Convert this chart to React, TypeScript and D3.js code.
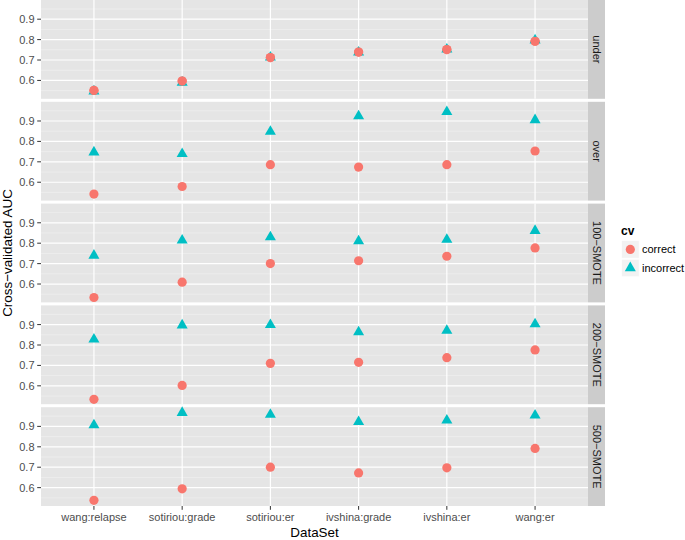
import React from "react";
import * as d3 from "d3";

const datasets = ["wang:relapse", "sotiriou:grade", "sotiriou:er", "ivshina:grade", "ivshina:er", "wang:er"];
const methods = ["under", "over", "100\u2212SMOTE", "200\u2212SMOTE", "500\u2212SMOTE"];
const cvLevels = ["correct", "incorrect"];

const correctUnder = [0.551, 0.597, 0.712, 0.739, 0.751, 0.792];
const correctOver = [0.542, 0.579, 0.686, 0.674, 0.686, 0.753];
const correct100 = [0.534, 0.609, 0.700, 0.714, 0.736, 0.777];
const correct200 = [0.534, 0.602, 0.710, 0.715, 0.738, 0.776];
const correct500 = [0.538, 0.594, 0.700, 0.672, 0.697, 0.792];

const incorrectUnder = [0.547, 0.590, 0.713, 0.738, 0.752, 0.797];
const incorrectOver = [0.747, 0.739, 0.848, 0.924, 0.945, 0.905];
const incorrect100 = [0.740, 0.814, 0.830, 0.810, 0.818, 0.861];
const incorrect200 = [0.828, 0.897, 0.899, 0.863, 0.871, 0.902];
const incorrect500 = [0.906, 0.967, 0.958, 0.922, 0.930, 0.954];

const yTicks = [0.6, 0.7, 0.8, 0.9];
const yMinor = [0.55, 0.65, 0.75, 0.85, 0.95];
const yDomain = [0.51, 0.994];

const correctByMethod = [correctUnder, correctOver, correct100, correct200, correct500];
const incorrectByMethod = [incorrectUnder, incorrectOver, incorrect100, incorrect200, incorrect500];

const colors = ["#F8766D", "#00BFC4"];
const FONT = "'Liberation Sans', Arial, Helvetica, sans-serif";

const W = 685, H = 540;
const left = 41, right = 588;
const stripW = 17;
const panelTop0 = 0, panelH = 98.8, gap = 3;
const plotBottom = panelTop0 + 5 * panelH + 4 * gap;

function tri(cx: number, cy: number, s: number) {
  const r = 1.555 * s, xc = 1.347 * s, yc = 0.778 * s;
  return `M${cx},${cy - r}L${cx + xc},${cy + yc}L${cx - xc},${cy + yc}Z`;
}

export default function App() {
  const x = d3.scalePoint<string>().domain(datasets).range([left, right]).padding(0.6);
  const panelY = (i: number) => panelTop0 + i * (panelH + gap);
  const yFor = (i: number) =>
    d3.scaleLinear().domain(yDomain).range([panelY(i) + panelH, panelY(i)]);

  return (
    <svg width={W} height={H} style={{ position: "absolute", left: 0, top: 0, fontFamily: FONT }}>
      <rect width={W} height={H} fill="#ffffff" />
      {methods.map((m, i) => {
        const y = yFor(i);
        const top = panelY(i);
        return (
          <g key={m}>
            <rect x={left} y={top} width={right - left} height={panelH} fill="#E5E5E5" />
            {yMinor.map((t) => (
              <line key={"mi" + t} x1={left} x2={right} y1={y(t)} y2={y(t)} stroke="#F2F2F2" strokeWidth={0.6} />
            ))}
            {yTicks.map((t) => (
              <line key={"ma" + t} x1={left} x2={right} y1={y(t)} y2={y(t)} stroke="#FFFFFF" strokeWidth={1.2} />
            ))}
            {datasets.map((d) => (
              <line key={"v" + d} x1={x(d)} x2={x(d)} y1={top} y2={top + panelH} stroke="#FFFFFF" strokeWidth={1.2} />
            ))}
            {correctByMethod[i].map((v, j) => (
              <circle key={"c" + j} cx={x(datasets[j])} cy={y(v)} r={4.6} fill={colors[0]} />
            ))}
            {incorrectByMethod[i].map((v, j) => (
              <path key={"t" + j} d={tri(x(datasets[j]) as number, y(v), 4.1)} fill={colors[1]} />
            ))}
            {i === 0 &&
              correctByMethod[i].map((v, j) => (
                <circle key={"c2" + j} cx={x(datasets[j])} cy={y(v)} r={4.6} fill={colors[0]} />
              ))}
            {yTicks.map((t) => (
              <g key={"yt" + t}>
                <line x1={left - 3.8} x2={left} y1={y(t)} y2={y(t)} stroke="#333333" strokeWidth={1} />
                <text x={left - 6.5} y={y(t)} dy="0.36em" textAnchor="end" fontSize={11} fill="#4D4D4D">
                  {t.toFixed(1)}
                </text>
              </g>
            ))}
            <rect x={right} y={top} width={stripW} height={panelH} fill="#CCCCCC" />
            <text
              transform={`translate(${right + stripW / 2},${top + panelH / 2}) rotate(90)`}
              textAnchor="middle"
              dy="0.36em"
              fontSize={11}
              fill="#1A1A1A"
            >
              {m}
            </text>
          </g>
        );
      })}
      {datasets.map((d) => (
        <g key={"xt" + d}>
          <line x1={x(d)} x2={x(d)} y1={plotBottom} y2={plotBottom + 3.8} stroke="#333333" strokeWidth={1} />
          <text x={x(d)} y={520.5} textAnchor="middle" fontSize={11} fill="#4D4D4D">
            {d}
          </text>
        </g>
      ))}
      <text x={(left + right) / 2} y={537} textAnchor="middle" fontSize={13.4} fill="#000000">
        DataSet
      </text>
      <text
        transform={`translate(12,${plotBottom / 2}) rotate(-90)`}
        textAnchor="middle"
        fontSize={13.4}
        fill="#000000"
      >
        Cross{"\u2212"}validated AUC
      </text>
      <text x={621} y={235} fontSize={12} fontWeight="bold" fill="#000000">
        cv
      </text>
      {cvLevels.map((c, k) => {
        const ky = 240.7 + k * 18.6;
        const cx = 630.3, cy = ky + 8.7;
        return (
          <g key={c}>
            <rect x={621.7} y={ky} width={17.4} height={17.4} fill="#F2F2F2" stroke="#FFFFFF" strokeWidth={0.5} />
            {k === 0 ? (
              <circle cx={cx} cy={cy} r={4.6} fill={colors[0]} />
            ) : (
              <path d={tri(cx, cy, 4.1)} fill={colors[1]} />
            )}
            <text x={642} y={cy} dy="0.36em" fontSize={11} fill="#000000">
              {c}
            </text>
          </g>
        );
      })}
    </svg>
  );
}
